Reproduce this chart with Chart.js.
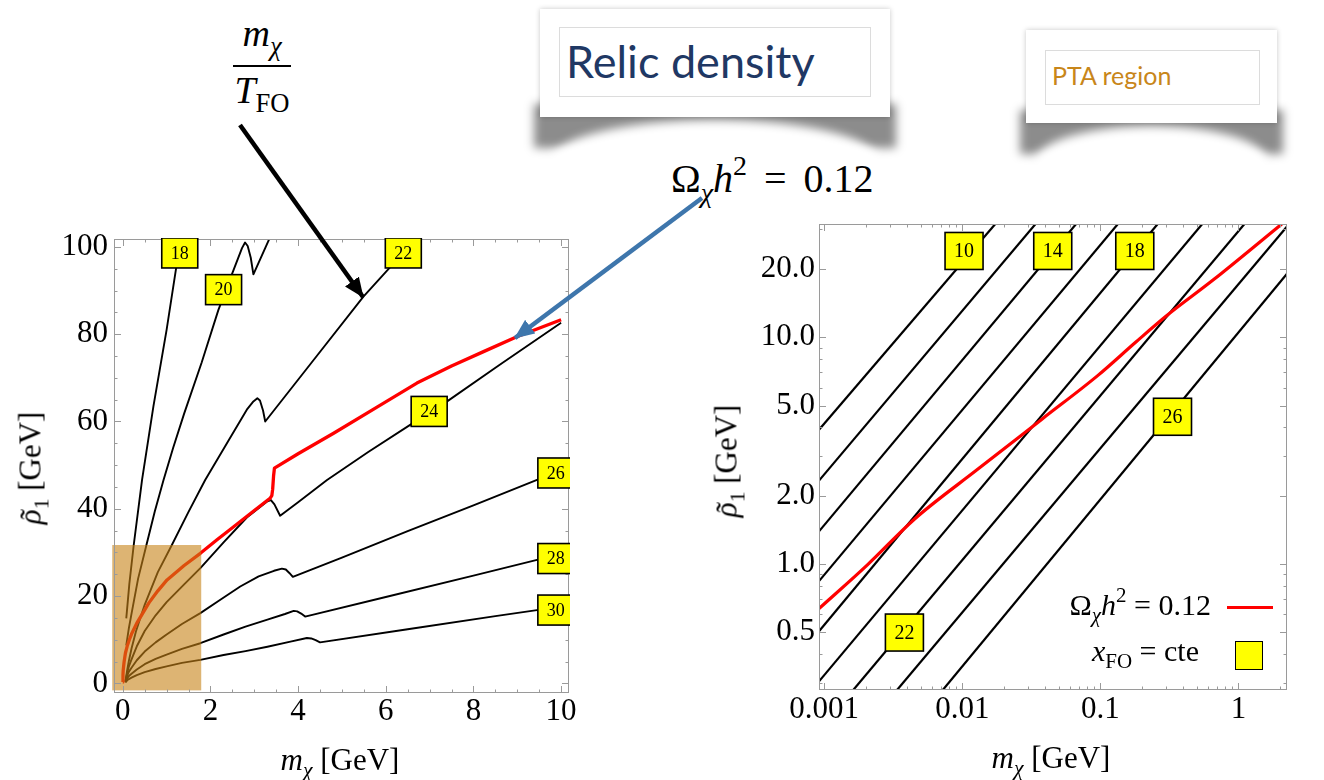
<!DOCTYPE html>
<html>
<head>
<meta charset="utf-8">
<script src="https://cdn.jsdelivr.net/npm/chart.js@4.4.0/dist/chart.umd.min.js"></script>
<style>
html, body { margin: 0; padding: 0; background: #fff; }
body { width: 1324px; height: 780px; position: relative; overflow: hidden; }
canvas { position: absolute; }
.m { position: absolute; font-family: 'Liberation Serif', serif; line-height: 1; white-space: nowrap; color: #000; }
.m sub { font-size: 70%; vertical-align: -0.35em; line-height: 0; }
.m sup { font-size: 70%; vertical-align: 0.6em; line-height: 0; }
.acc { position: relative; display: inline-block; font-style: italic; }
.acc span { position: absolute; left: 0.16em; top: 0.02em; font-style: normal; }
.shadow { position: absolute; background: rgba(0,0,0,0.45); filter: blur(5px); }
.hole { position: absolute; background: #fff; border-radius: 50%; filter: blur(5px); }
.card { position: absolute; background: #fff; box-shadow: 0 0 5px rgba(0,0,0,0.22); }
.inner { position: absolute; border: 1px solid #dcdcdc; }
.cardtxt { position: absolute; font-family: Lato, 'Open Sans', sans-serif; line-height: 1; white-space: nowrap; }
.rot { transform: translate(-50%, -50%) rotate(-90deg); }
.ctr { transform: translate(-50%, -50%); }
</style>
</head>
<body>

<!-- cards -->
<div class="shadow" style="left:534px;top:104px;width:362px;height:44px"></div>
<div class="hole" style="left:552px;top:120px;width:326px;height:80px"></div>
<div class="card" style="left:540px;top:9px;width:350px;height:108px"></div>
<div class="inner" style="left:559px;top:27px;width:310px;height:68px"></div>
<div class="cardtxt" style="left:566px;top:39px;font-size:45px;color:#1F3864">Relic density</div>

<div class="shadow" style="left:1020px;top:110px;width:263px;height:44px"></div>
<div class="hole" style="left:1036px;top:126px;width:231px;height:70px"></div>
<div class="card" style="left:1026px;top:30px;width:251px;height:93px"></div>
<div class="inner" style="left:1045px;top:50px;width:213px;height:53px"></div>
<div class="cardtxt" style="left:1052px;top:63px;font-size:25px;color:#C8861A">PTA region</div>

<!-- annotations -->
<div class="m" style="left:234px;top:14px;width:56px;text-align:center;font-size:38px"><i>m</i><sub><i>χ</i></sub></div>
<div style="position:absolute;left:233px;top:65px;width:58px;height:2px;background:#000"></div>
<div class="m" style="left:234px;top:71px;width:56px;text-align:center;font-size:38px"><i>T</i><sub>FO</sub></div>
<div class="m" style="left:671px;top:159px;font-size:40px;word-spacing:7px">Ω<sub><i>χ</i></sub><i>h</i><sup>2</sup> = 0.12</div>

<canvas id="leftChart" width="600" height="560" style="left:0;top:200px"></canvas>
<canvas id="rightChart" width="620" height="560" style="left:700px;top:200px"></canvas>

<!-- axis titles -->
<div class="m ctr" style="left:340px;top:759px;font-size:31px"><i>m</i><sub><i>χ</i></sub> [GeV]</div>
<div class="m rot" style="left:30px;top:468px;font-size:31px"><span class="acc">ρ<span>˜</span></span><sub>1</sub> [GeV]</div>
<div class="m ctr" style="left:1051px;top:757px;font-size:31px"><i>m</i><sub><i>χ</i></sub> [GeV]</div>
<div class="m rot" style="left:726px;top:461px;font-size:31px"><span class="acc">ρ<span>˜</span></span><sub>1</sub> [GeV]</div>

<!-- legend of the log panel -->
<div class="m" style="right:113px;top:590px;font-size:30px">Ω<sub><i>χ</i></sub><i>h</i><sup>2</sup> = 0.12</div>
<div style="position:absolute;left:1227px;top:606px;width:46px;height:3px;background:#ff0000"></div>
<div class="m" style="right:125px;top:636px;font-size:30px"><i>x</i><sub>FO</sub> = cte</div>
<div style="position:absolute;left:1235px;top:641px;width:26px;height:27px;background:#ffff00;border:1.5px solid #000"></div>

<svg style="position:absolute;left:0;top:0" width="1324" height="780">
  <defs>
    <marker id="headK" markerWidth="20" markerHeight="17" refX="19" refY="8.5" orient="auto" markerUnits="userSpaceOnUse">
      <path d="M0,0 L20,8.5 L0,17 z" fill="#000"/>
    </marker>
    <marker id="headB" markerWidth="20" markerHeight="17" refX="19" refY="8.5" orient="auto" markerUnits="userSpaceOnUse">
      <path d="M0,0 L20,8.5 L0,17 z" fill="#3E76AC"/>
    </marker>
  </defs>
  <line x1="240" y1="125" x2="363" y2="297" stroke="#000" stroke-width="4.5" marker-end="url(#headK)"/>
  <line x1="702" y1="198" x2="515" y2="338" stroke="#3E76AC" stroke-width="4.5" marker-end="url(#headB)"/>
</svg>

<script>
// ---------- left panel (linear) : m_chi [GeV] vs rho1 [GeV] ----------
var relic_m = [0.00, 0.005, 0.01, 0.03, 0.06, 0.10, 0.15, 0.20, 0.32, 0.45, 0.60, 0.80, 1.01, 1.40, 1.77, 2.15, 2.53, 2.95, 3.36, 3.40, 3.42, 3.44, 3.46, 4.00, 4.81, 5.80, 6.71, 7.50, 8.23, 8.99, 10.00];
var relic_r = [0.3, 2.0, 3.0, 4.9, 6.9, 8.5, 10.0, 11.3, 13.8, 16.0, 18.5, 21.2, 23.7, 27.0, 29.8, 32.9, 35.9, 39.2, 42.4, 43.0, 44.5, 47.5, 49.3, 52.6, 57.3, 63.3, 68.8, 72.7, 76.0, 79.4, 83.3];

var xfo18_m = [0.08, 0.15, 0.25, 0.44, 0.70, 1.00, 1.22, 1.36];
var xfo18_r = [14.9, 22.8, 31.7, 46.6, 63.5, 81.0, 95.3, 103.0];

var xfo20_m = [0.08, 0.14, 0.20, 0.35, 0.54, 0.73, 0.93, 1.15, 1.40, 1.80, 2.18, 2.50, 2.72, 2.79, 2.85, 2.92, 2.98, 3.36];
var xfo20_r = [8.7, 12.7, 16.0, 24.0, 31.7, 39.4, 46.6, 54.0, 61.8, 73.5, 85.5, 94.0, 99.7, 101.0, 100.2, 97.5, 93.7, 102.2];

var xfo22_m = [0.06, 0.10, 0.14, 0.20, 0.30, 0.50, 0.80, 1.12, 1.50, 1.88, 2.40, 2.83, 2.98, 3.07, 3.13, 3.20, 3.25, 4.30, 5.49, 6.06, 6.75];
var xfo22_r = [0.4, 3.0, 5.2, 8.0, 11.9, 18.0, 25.5, 31.7, 39.3, 46.6, 55.4, 62.7, 64.6, 65.3, 64.8, 62.5, 60.0, 73.4, 88.6, 94.9, 102.5];

var xfo24_m = [0.06, 0.10, 0.14, 0.20, 0.32, 0.50, 0.75, 1.00, 1.40, 1.77, 2.30, 2.83, 3.30, 3.38, 3.46, 3.53, 3.59, 4.00, 4.66, 5.60, 6.60, 7.40, 8.60, 10.00];
var xfo24_r = [0.4, 2.4, 3.9, 5.5, 8.5, 12.0, 15.6, 18.6, 22.7, 26.4, 32.3, 38.0, 41.7, 42.0, 41.0, 39.6, 38.4, 41.5, 46.6, 53.0, 59.5, 64.6, 73.0, 82.6];

var xfo26_m = [0.06, 0.10, 0.14, 0.20, 0.32, 0.50, 0.75, 1.00, 1.35, 1.77, 2.20, 2.68, 3.10, 3.45, 3.63, 3.72, 3.80, 3.88, 5.00, 6.50, 8.00, 9.45, 10.00];
var xfo26_r = [0.4, 1.7, 2.7, 3.6, 5.3, 7.3, 9.4, 11.2, 13.6, 16.1, 19.0, 22.2, 24.5, 25.8, 26.3, 26.1, 25.3, 24.4, 28.8, 34.9, 40.8, 46.6, 48.6];

var xfo28_m = [0.06, 0.10, 0.14, 0.20, 0.32, 0.50, 0.75, 1.00, 1.35, 1.77, 2.30, 2.80, 3.30, 3.70, 3.90, 3.98, 4.07, 4.16, 6.00, 8.00, 9.45, 10.00];
var xfo28_r = [0.3, 1.1, 1.7, 2.2, 3.2, 4.4, 5.6, 6.6, 7.9, 9.2, 11.2, 13.0, 14.6, 15.9, 16.6, 16.5, 16.0, 15.3, 19.8, 24.7, 28.3, 29.6];

var xfo30_m = [0.06, 0.10, 0.14, 0.20, 0.32, 0.50, 0.75, 1.00, 1.35, 1.77, 2.30, 2.80, 3.30, 3.80, 4.20, 4.30, 4.40, 4.50, 6.50, 8.50, 10.00];
var xfo30_r = [0.2, 0.7, 1.0, 1.3, 1.9, 2.6, 3.3, 3.9, 4.7, 5.4, 6.5, 7.4, 8.4, 9.5, 10.4, 10.3, 9.9, 9.4, 12.4, 15.4, 17.6];

var leftTags = ['18', '20', '22', '24', '26', '28', '30'];
var leftTagM = [1.30, 2.30, 6.40, 6.99, 9.88, 9.88, 9.88];
var leftTagR = [98.6, 90.2, 98.6, 62.3, 48.2, 28.6, 16.8];

var ptaMass = [-0.24, 1.79];
var ptaRho = [-1.6, 31.7];

var leftTicksM = [0, 2, 4, 6, 8, 10];
var leftTicksR = [0, 20, 40, 60, 80, 100];

// ---------- right panel (log-log) ----------
var relicLog_m = [0.000917, 0.002047, 0.004541, 0.01313, 0.03795, 0.0961, 0.18, 0.30, 0.658, 2.061];
var relicLog_r = [0.636, 0.989, 1.585, 2.635, 4.365, 6.79, 9.5, 12.4, 17.9, 31.56];

// x_FO = 10, 12, ... 26 : straight lines, start and end points
var cteLevels = [10, 12, 14, 16, 18, 20, 22, 24, 26];
var cteStart_m = [0.000917, 0.000917, 0.000917, 0.000917, 0.000917, 0.000917, 0.001623, 0.003368, 0.007225];
var cteStart_r = [3.908, 2.333, 1.393, 0.841, 0.506, 0.304, 0.2785, 0.2785, 0.2785];
var cteEnd_m = [0.01734, 0.03391, 0.06672, 0.1339, 0.260, 0.5468, 1.105, 2.247, 2.247];
var cteEnd_r = [31.56, 31.56, 31.56, 31.56, 31.56, 31.56, 31.56, 30.76, 19.05];

var rightTags = ['10', '14', '18', '22', '26'];
var rightTagM = [0.0103, 0.0452, 0.1775, 0.00381, 0.333];
var rightTagR = [24.0, 24.0, 24.0, 0.499, 4.46];

var rightTicksM = [0.001, 0.01, 0.1, 1];
var rightTicksR = [0.5, 1, 2, 5, 10, 20];

var serif = "'Liberation Serif', 'Times New Roman', serif";

function pts(ms, rs) {
    return ms.map(function (m, i) { return { x: m, y: rs[i] }; });
}

function curve(ms, rs, color, width, smooth) {
    var d = {
        data: pts(ms, rs),
        showLine: true,
        borderColor: color,
        borderWidth: width,
        borderJoinStyle: 'round',
        pointRadius: 0,
        pointHoverRadius: 0,
        fill: false,
        clip: 0
    };
    if (smooth) d.cubicInterpolationMode = 'monotone';
    else d.tension = 0;
    return d;
}

// minor tick helpers
function stepTicks(from, to, step) {
    var out = [];
    for (var v = from; v <= to + 1e-9; v += step) out.push(Math.round(v * 1000) / 1000);
    return out;
}
function logMinor(lo, hi) {
    var out = [];
    for (var e = -4; e <= 2; e++) {
        for (var k = 1; k <= 9; k++) {
            var v = k * Math.pow(10, e);
            if (v >= lo && v <= hi) out.push(v);
        }
    }
    return out;
}

// frame, inward ticks, tags and the shaded region drawn over the curves
function decorPlugin(cfg) {
    return {
        id: 'decor',
        afterDatasetsDraw: function (chart) {
            var ctx = chart.ctx, a = chart.chartArea;
            var xs = chart.scales.x, ys = chart.scales.y;

            if (cfg.region) {
                var x0 = xs.getPixelForValue(cfg.region.m[0]), x1 = xs.getPixelForValue(cfg.region.m[1]);
                var y0 = ys.getPixelForValue(cfg.region.r[0]), y1 = ys.getPixelForValue(cfg.region.r[1]);
                ctx.save();
                ctx.fillStyle = 'rgba(198,130,22,0.6)';
                ctx.fillRect(x0, y1, x1 - x0, y0 - y1);
                ctx.restore();
            }

            // frame
            ctx.save();
            ctx.strokeStyle = '#9a9a9a';
            ctx.lineWidth = 1;
            ctx.strokeRect(a.left + 0.5, a.top + 0.5, a.right - a.left - 1, a.bottom - a.top - 1);
            ctx.beginPath();
            function xt(list, len) {
                list.forEach(function (v) {
                    var p = Math.round(xs.getPixelForValue(v)) + 0.5;
                    if (p < a.left || p > a.right) return;
                    ctx.moveTo(p, a.bottom); ctx.lineTo(p, a.bottom - len);
                    ctx.moveTo(p, a.top); ctx.lineTo(p, a.top + len);
                });
            }
            function yt(list, len) {
                list.forEach(function (v) {
                    var p = Math.round(ys.getPixelForValue(v)) + 0.5;
                    if (p < a.top || p > a.bottom) return;
                    ctx.moveTo(a.left, p); ctx.lineTo(a.left + len, p);
                    ctx.moveTo(a.right, p); ctx.lineTo(a.right - len, p);
                });
            }
            xt(cfg.xMajor, 7); xt(cfg.xMinor, 3.5);
            yt(cfg.yMajor, 7); yt(cfg.yMinor, 3.5);
            ctx.stroke();
            ctx.restore();

            // yellow tags
            ctx.save();
            ctx.beginPath();
            ctx.rect(a.left, a.top - 1, a.right - a.left + 1, a.bottom - a.top + 2);
            ctx.clip();
            cfg.tags.forEach(function (t, i) {
                var cx = xs.getPixelForValue(cfg.tagM[i]);
                var cy = ys.getPixelForValue(cfg.tagR[i]);
                var w = cfg.tagW, h = cfg.tagH;
                ctx.fillStyle = '#ffff00';
                ctx.fillRect(cx - w / 2, cy - h / 2, w, h);
                ctx.strokeStyle = '#000';
                ctx.lineWidth = 1.6;
                ctx.strokeRect(cx - w / 2, cy - h / 2, w, h);
                ctx.fillStyle = '#000';
                ctx.font = cfg.tagFont + 'px ' + serif;
                ctx.textAlign = 'center';
                ctx.textBaseline = 'middle';
                ctx.fillText(t, cx, cy + 1);
            });
            ctx.restore();
        }
    };
}

function axisFont() { return { family: serif, size: 31 }; }

// ---------- left chart ----------
var leftSets = [curve(relic_m, relic_r, '#ff0000', 3.3, false)];
[[xfo18_m, xfo18_r], [xfo20_m, xfo20_r], [xfo22_m, xfo22_r], [xfo24_m, xfo24_r],
 [xfo26_m, xfo26_r], [xfo28_m, xfo28_r], [xfo30_m, xfo30_r]].forEach(function (c) {
    leftSets.push(curve(c[0], c[1], '#000000', 1.9, false));
});

new Chart(document.getElementById('leftChart'), {
    type: 'scatter',
    data: { datasets: leftSets },
    options: {
        responsive: false,
        animation: false,
        events: [],
        layout: { padding: { left: 0, right: 31, top: 39, bottom: 7 } },
        plugins: { legend: { display: false }, tooltip: { enabled: false } },
        scales: {
            x: {
                type: 'linear', min: -0.2, max: 10.18,
                afterFit: function (s) { s.height = 60; },
                afterBuildTicks: function (s) { s.ticks = leftTicksM.map(function (v) { return { value: v }; }); },
                grid: { display: false, drawTicks: false },
                border: { display: false },
                ticks: { font: axisFont(), color: '#000', padding: 0, maxRotation: 0, autoSkip: false,
                         callback: function (v) { return String(v); } }
            },
            y: {
                type: 'linear', min: -2.2, max: 101.8,
                afterFit: function (s) { s.width = 114; },
                afterBuildTicks: function (s) { s.ticks = leftTicksR.map(function (v) { return { value: v }; }); },
                grid: { display: false, drawTicks: false },
                border: { display: false },
                ticks: { font: axisFont(), color: '#000', padding: 6, autoSkip: false,
                         callback: function (v) { return String(v); } }
            }
        }
    },
    plugins: [decorPlugin({
        region: { m: ptaMass, r: ptaRho },
        xMajor: leftTicksM, xMinor: stepTicks(0, 10, 0.5),
        yMajor: leftTicksR, yMinor: stepTicks(0, 100, 5),
        tags: leftTags, tagM: leftTagM, tagR: leftTagR,
        tagW: 36, tagH: 30, tagFont: 18
    })]
});

// ---------- right chart ----------
var rightSets = [curve(relicLog_m, relicLog_r, '#ff0000', 3.2, true)];
cteLevels.forEach(function (lv, i) {
    rightSets.push(curve([cteStart_m[i], cteEnd_m[i]], [cteStart_r[i], cteEnd_r[i]], '#000000', 2.2, false));
});

new Chart(document.getElementById('rightChart'), {
    type: 'scatter',
    data: { datasets: rightSets },
    options: {
        responsive: false,
        animation: false,
        events: [],
        layout: { padding: { left: 0, right: 33, top: 24, bottom: 8 } },
        plugins: { legend: { display: false }, tooltip: { enabled: false } },
        scales: {
            x: {
                type: 'logarithmic', min: 0.000917, max: 2.247,
                afterFit: function (s) { s.height = 62; },
                afterBuildTicks: function (s) { s.ticks = rightTicksM.map(function (v) { return { value: v }; }); },
                grid: { display: false, drawTicks: false },
                border: { display: false },
                ticks: { font: axisFont(), color: '#000', padding: 1, maxRotation: 0, autoSkip: false,
                         callback: function (v) { return String(v); } }
            },
            y: {
                type: 'logarithmic', min: 0.2785, max: 31.56,
                afterFit: function (s) { s.width = 119; },
                afterBuildTicks: function (s) { s.ticks = rightTicksR.map(function (v) { return { value: v }; }); },
                grid: { display: false, drawTicks: false },
                border: { display: false },
                ticks: { font: axisFont(), color: '#000', padding: 4, autoSkip: false,
                         callback: function (v) { return Number(v).toFixed(1); } }
            }
        }
    },
    plugins: [decorPlugin({
        region: null,
        xMajor: rightTicksM, xMinor: logMinor(0.000917, 2.247),
        yMajor: rightTicksR, yMinor: logMinor(0.2785, 31.56),
        tags: rightTags, tagM: rightTagM, tagR: rightTagR,
        tagW: 38, tagH: 37, tagFont: 20
    })]
});
</script>
</body>
</html>
